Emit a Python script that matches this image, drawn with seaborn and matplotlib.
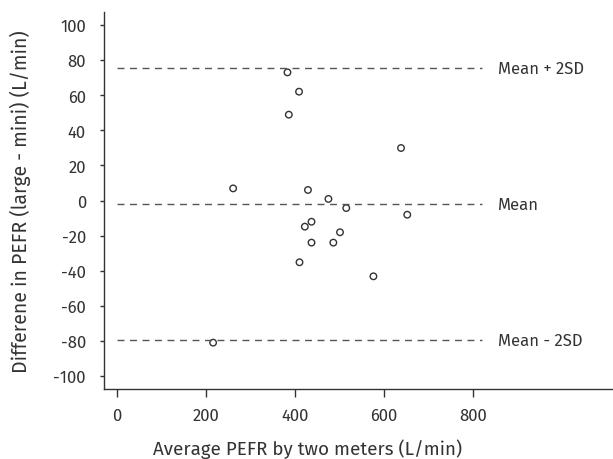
import matplotlib
matplotlib.use("Agg")
import matplotlib.pyplot as plt
import pandas as pd
import seaborn as sns
import numpy as np

# Bland-Altman data
avg_pefr = [383, 409, 386, 638, 261, 429, 475, 515, 652, 437, 422, 501, 437, 486, 410, 576, 216]
diff_pefr = [73.0, 62.0, 48.9, 29.9, 6.9, 6.0, 0.9, -4.3, -8.1, -12.1, -14.9, -18.1, -24.0, -24.0, -35.2, -43.2, -81.0]
x_ticks = [0, 200, 400, 600, 800]
y_ticks = [100, 80, 60, 40, 20, 0, -20, -40, -60, -80, -100]
limit_names = ["Mean + 2SD", "Mean", "Mean - 2SD"]


def main():
    df = pd.DataFrame({"avg": avg_pefr, "diff": diff_pefr})
    mean = df["diff"].mean()
    sd = df["diff"].std()
    limits = [mean + 2 * sd, mean, mean - 2 * sd]

    sns.set_style("ticks")
    plt.rcParams["font.family"] = ["Fira Sans", "DejaVu Sans"]
    plt.rcParams["axes.unicode_minus"] = False
    text_col = "#333333"

    fig = plt.figure(figsize=(6.13, 4.6), dpi=100)
    ax = fig.add_axes([104 / 613, 70 / 460, 509 / 613, 377 / 460])

    ax.hlines(limits, 0, 820, colors="#555555", linestyles=(0, (5, 4)), linewidth=1.0)
    for name, val in zip(limit_names, limits):
        ax.text(855, val, name, va="center", ha="left", fontsize=12, color=text_col)

    sns.scatterplot(data=df, x="avg", y="diff", ax=ax, marker="o", s=22,
                    facecolor="none", edgecolor="#333333", linewidth=1.0)

    ax.set_xlim(-29, 1114)
    ax.set_ylim(-107.4, 107.4)
    ax.set_xticks(x_ticks)
    ax.set_yticks(y_ticks)
    ax.tick_params(axis="x", length=6, width=1, colors=text_col, labelsize=12, pad=7)
    ax.tick_params(axis="y", length=3, width=1, colors=text_col, labelsize=12, pad=10)
    for s in ["left", "bottom"]:
        ax.spines[s].set_color("#333333")
        ax.spines[s].set_linewidth(1.0)
    sns.despine(ax=ax)

    ax.set_xlabel("Average PEFR by two meters (L/min)", fontsize=13.5, color=text_col)
    ax.xaxis.set_label_coords(0.399, -0.131)
    ax.set_ylabel("Differene in PEFR (large - mini) (L/min)", fontsize=14, color=text_col)
    ax.yaxis.set_label_coords(-0.144, 0.5)

    fig.savefig("out.png", dpi=100)


if __name__ == "__main__":
    main()
